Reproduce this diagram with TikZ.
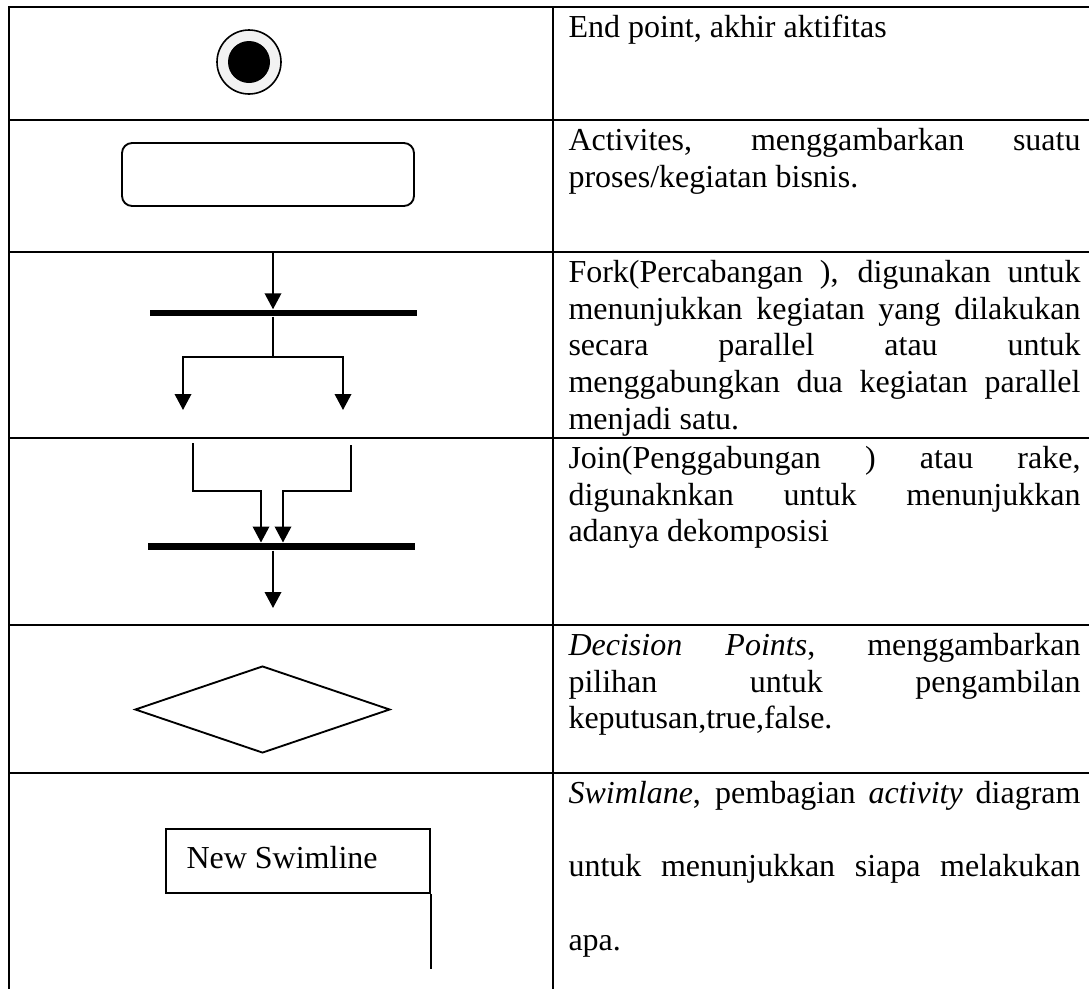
\documentclass[tikz,border=0pt]{standalone}
\usepackage{fontspec}
\setmainfont{Liberation Serif}
\usetikzlibrary{arrows.meta,shapes.geometric}
\newcommand\tstr{\noindent\rule{0pt}{9.66pt}}
\begin{document}
\begin{tikzpicture}[x=0.375pt,y=-0.375pt,
  grid/.style={line width=0.75pt},
  shp/.style={line width=0.7pt},
  arr/.style={line width=0.7pt,-{Triangle[width=6.2pt,length=6pt]}},
  bar/.style={fill=black,inner sep=0pt,minimum width=100.1pt,minimum height=2.4pt},
  desc/.style={anchor=north west,inner sep=0pt,text width=192pt,align=justify,
    font=\fontsize{12}{13.76}\selectfont,
    execute at begin node={\tolerance=10000\hyphenpenalty=10000\exhyphenpenalty=10000}}]
\clip (0,0) rectangle (1089,989);
\fill[white] (0,0) rectangle (1089,989);
% table grid
\draw[grid] (9,1000) -- (9,7) -- (1100,7);
\draw[grid] (553,7) -- (553,1000);
\foreach \y in {120,252,438,625,773} \draw[grid] (9,\y) -- (1100,\y);
% end point
\node[circle,draw,line width=0.6pt,fill={rgb,255:red,242;green,242;blue,242},minimum size=24pt,inner sep=0pt] (endO) at (249,62) {};
\node[circle,fill=black,minimum size=15.75pt,inner sep=0pt] (endI) at (249,62) {};
% activity
\node[draw,shp,rounded corners=3.75pt,minimum width=109.5pt,minimum height=23.6pt,inner sep=0pt] (act) at (268,174.5) {};
% fork
\coordinate (fkTop) at (273,252);
\node[bar] (fkBar) at (283.5,313) {};
\draw[arr] (fkTop) -- (fkTop |- fkBar.north);
\coordinate (fkMid) at (273,357);
\coordinate (fkL) at (183,410);
\coordinate (fkR) at (343,410);
\draw[shp] (fkTop |- fkBar.south) -- (fkMid);
\draw[arr] (fkMid) -| (fkL);
\draw[arr] (fkMid) -| (fkR);
% join
\coordinate (jnA) at (193,443);
\coordinate (jnB) at (351,445);
\node[bar,minimum height=2.6pt] (jnBar) at (281.5,546.5) {};
\coordinate (jnL) at (261,491);
\coordinate (jnR) at (283,491);
\draw[arr] (jnA) |- (jnL) -- (jnL |- jnBar.north);
\draw[arr] (jnB) |- (jnR) -- (jnR |- jnBar.north);
\coordinate (jnOut) at (273,608);
\draw[arr] (jnOut |- jnBar.south) -- (jnOut);
% decision
\node[diamond,draw,shp,minimum width=95.6pt,minimum height=32.6pt,inner sep=0pt] (dec) at (262.5,709.5) {};
% swimlane
\node[draw,shp,anchor=north west,minimum width=99pt,minimum height=24pt,inner sep=0pt] (swBox) at (165,828) {};
\node[anchor=base west,inner sep=0pt,font=\fontsize{12}{13.76}\selectfont] (swText) at (186,868) {New Swimline};
\coordinate (swEnd) at (429,969);
\draw[shp] (swBox.south east) -- (swBox.south east |- swEnd);
% descriptions
\node[desc] (t1) at (568,11.2) {\tstr End point, akhir aktifitas};
\node[desc] (t2) at (568,124.2) {\tstr Activites, menggambarkan suatu\linebreak proses/kegiatan bisnis.};
\node[desc] (t3) at (568,256.2) {\tstr Fork(Percabangan ), digunakan untuk\linebreak menunjukkan kegiatan yang dilakukan\linebreak secara parallel atau untuk\linebreak menggabungkan dua kegiatan parallel\linebreak menjadi satu.};
\node[desc] (t4) at (568,442.2) {\tstr Join(Penggabungan ) atau rake,\linebreak digunaknkan untuk menunjukkan\linebreak adanya dekomposisi};
\node[desc] (t5) at (568,629.2) {\tstr\textit{Decision Points}, menggambarkan\linebreak pilihan untuk pengambilan\linebreak keputusan,true,false.};
\node[desc,font=\fontsize{12}{27.5}\selectfont] (t6) at (568,777.2) {\tstr\textit{Swimlane}, pembagian \textit{activity} diagram\linebreak untuk menunjukkan siapa melakukan\linebreak apa.};
\end{tikzpicture}
\end{document}
